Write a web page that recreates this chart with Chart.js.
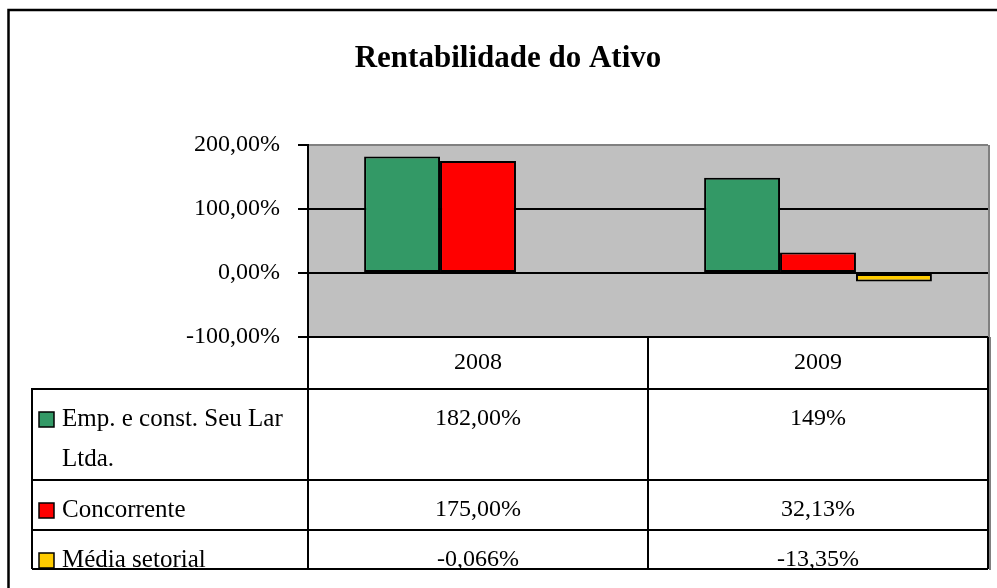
<!DOCTYPE html>
<html>
<head>
<meta charset="utf-8">
<script src="https://cdn.jsdelivr.net/npm/chart.js@4"></script>
<style>
  html, body { margin: 0; padding: 0; background: #fff; }
</style>
</head>
<body>
<canvas id="grafico" width="997" height="588"></canvas>
<script>
// ================= DADOS =================

const anos = ["2008", "2009"];
const series = ["Emp. e const. Seu Lar Ltda.", "Concorrente", "Média setorial"];
const empresa = [182.00, 149];
const concorrente = [175.00, 32.13];
const mediaSetorial = [-0.066, -13.35];
// casas decimais mostradas na tabela
const casasEmpresa = [2, 0];
const casasConcorrente = [2, 2];
const casasMedia = [3, 2];
const ticksY = [-100, 0, 100, 200];
const cores = ["#339966", "#FF0000", "#FFCC00"];

const FONTE = "'Liberation Serif', 'Times New Roman', serif";

function fmt(v, casas) {
  return v.toFixed(casas).replace(".", ",") + "%";
}

// ================= PLUGINS =================

const fundoPlot = {
  id: "fundoPlot",
  beforeDraw(chart) {
    const { ctx, chartArea: ca } = chart;
    ctx.save();
    ctx.fillStyle = "#C0C0C0";
    ctx.fillRect(ca.left, ca.top, ca.right - ca.left, ca.bottom - ca.top);
    ctx.restore();
  },
  afterDatasetsDraw(chart) {
    const { ctx, chartArea: ca } = chart;
    ctx.save();
    ctx.strokeStyle = "#808080";
    ctx.lineWidth = 2;
    ctx.beginPath();
    ctx.moveTo(ca.right + 1, ca.top);
    ctx.lineTo(ca.right + 1, ca.bottom);
    ctx.stroke();
    ctx.restore();
  }
};

const tabela = {
  id: "tabela",
  afterDraw(chart) {
    const { ctx, chartArea: ca } = chart;
    const xs = chart.scales.x;
    const esq = 32;
    const meio = (xs.getPixelForValue(0) + xs.getPixelForValue(1)) / 2;
    const alturas = [52, 91, 50, 39];
    const linhas = [ca.bottom];
    alturas.forEach(h => linhas.push(linhas[linhas.length - 1] + h));
    const fim = linhas[linhas.length - 1];

    ctx.save();
    ctx.strokeStyle = "#000";
    ctx.lineWidth = 2;
    ctx.beginPath();
    [ca.left, meio, ca.right].forEach(x => {
      ctx.moveTo(x, ca.bottom);
      ctx.lineTo(x, fim);
    });
    ctx.moveTo(esq, linhas[1] - 1);
    ctx.lineTo(esq, fim);
    for (let i = 1; i < linhas.length; i++) {
      ctx.moveTo(esq, linhas[i]);
      ctx.lineTo(ca.right, linhas[i]);
    }
    ctx.stroke();

    // sombra cinza a direita
    ctx.strokeStyle = "#808080";
    ctx.beginPath();
    ctx.moveTo(ca.right + 2, ca.bottom);
    ctx.lineTo(ca.right + 2, fim + 1);
    ctx.stroke();

    ctx.fillStyle = "#000";
    ctx.font = "24px " + FONTE;
    ctx.textBaseline = "middle";
    ctx.textAlign = "center";
    anos.forEach((a, j) => ctx.fillText(a, xs.getPixelForValue(j), linhas[0] + 26));

    const valores = [empresa, concorrente, mediaSetorial];
    const casas = [casasEmpresa, casasConcorrente, casasMedia];

    series.forEach((nome, i) => {
      const topo = linhas[i + 1];
      const yTxt = topo + 30;

      // chave da legenda
      ctx.fillStyle = cores[i];
      ctx.fillRect(39, yTxt - 7, 15, 15);
      ctx.lineWidth = 1.5;
      ctx.strokeStyle = "#000";
      ctx.strokeRect(39, yTxt - 7, 15, 15);

      // nome (quebra dentro da coluna)
      ctx.fillStyle = "#000";
      ctx.textAlign = "left";
      ctx.font = "25px " + FONTE;
      const maxW = ca.left - 62 - 6;
      const palavras = nome.split(" ");
      const partes = [];
      let atual = "";
      palavras.forEach(p => {
        const teste = atual ? atual + " " + p : p;
        if (ctx.measureText(teste).width > maxW && atual) {
          partes.push(atual);
          atual = p;
        } else {
          atual = teste;
        }
      });
      partes.push(atual);
      partes.forEach((t, k) => ctx.fillText(t, 62, yTxt + k * 40));

      // valores
      ctx.textAlign = "center";
      ctx.font = "24px " + FONTE;
      valores[i].forEach((v, j) => {
        ctx.fillText(fmt(v, casas[i][j]), xs.getPixelForValue(j), yTxt);
      });
    });

    // moldura externa
    ctx.strokeStyle = "#000";
    ctx.lineWidth = 2.5;
    ctx.strokeRect(8.5, 10, 1000, 600);
    ctx.restore();
  }
};

// ================= GRAFICO =================

const conjuntos = [empresa, concorrente, mediaSetorial].map((dados, i) => ({
  label: series[i],
  data: dados,
  backgroundColor: cores[i],
  borderColor: "#000",
  borderWidth: 2,
  borderSkipped: false,
  categoryPercentage: 0.67,
  barPercentage: 1
}));

new Chart(document.getElementById("grafico"), {
  type: "bar",
  data: { labels: anos, datasets: conjuntos },
  options: {
    responsive: false,
    devicePixelRatio: 1,
    animation: false,
    layout: { padding: { left: 28, right: 9, top: 0, bottom: 251 } },
    plugins: {
      legend: { display: false },
      tooltip: { enabled: false },
      title: {
        display: true,
        text: "Rentabilidade do Ativo",
        color: "#000",
        font: { family: FONTE, size: 31, weight: "bold", lineHeight: 1.2 },
        padding: { top: 40, bottom: 67.8 }
      }
    },
    scales: {
      x: { display: false },
      y: {
        min: -100,
        max: 200,
        afterBuildTicks: s => { s.ticks = ticksY.map(v => ({ value: v })); },
        afterFit: s => { s.width = 280; },
        border: { color: "#000", width: 2 },
        grid: {
          color: c => (c.tick && c.tick.value === 200 ? "#808080" : "#000"),
          lineWidth: 2,
          tickLength: 10,
          tickColor: "#000"
        },
        ticks: {
          color: "#000",
          padding: 18,
          font: { family: FONTE, size: 24 },
          callback: v => fmt(v, 2)
        }
      }
    }
  },
  plugins: [fundoPlot, tabela]
});
</script>
</body>
</html>
